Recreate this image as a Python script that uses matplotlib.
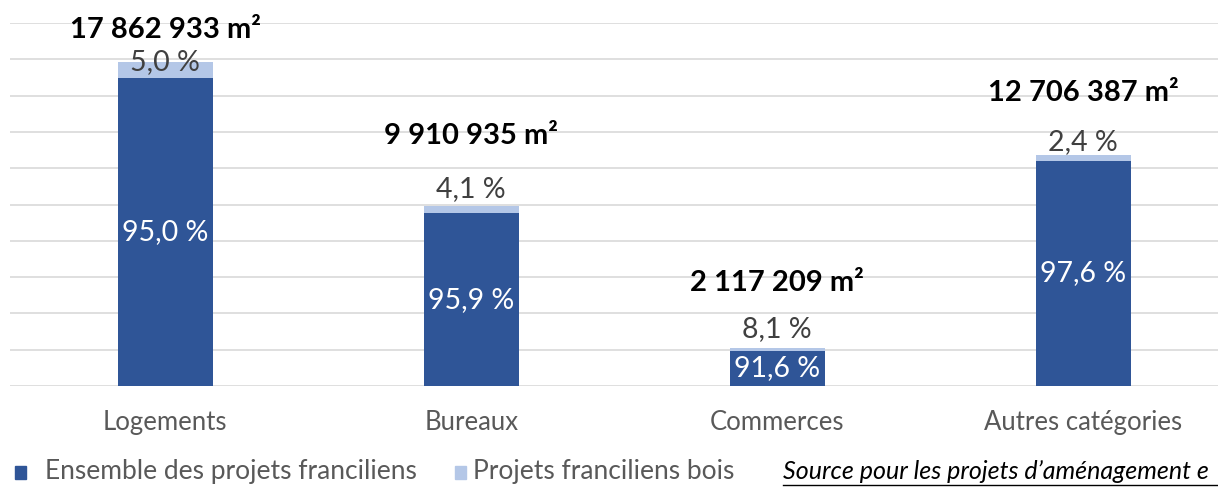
import matplotlib.pyplot as plt
import numpy as np

plt.rcParams['font.family'] = ['Lato', 'DejaVu Sans']

categories = ["Logements", "Bureaux", "Commerces", "Autres catégories"]
totals = [17862933, 9910935, 2117209, 12706387]
pct_ensemble = [95.0, 95.9, 91.6, 97.6]
pct_bois = [5.0, 4.1, 8.1, 2.4]

total_labels = ["17 862 933 m²", "9 910 935 m²", "2 117 209 m²", "12 706 387 m²"]
source_text = "Source pour les projets d’aménagement e"

# label offsets above bar top (pixels in the reference)
bois_off = [0, 17, 19, 13]
total_off = [32, 70, 65, 62]

dark = "#2F5597"
light = "#B4C7E7"

ens_vals = [t * p / 100 for t, p in zip(totals, pct_ensemble)]
bois_vals = [t * p / 100 for t, p in zip(totals, pct_bois)]

W, H = 1218, 487
fig = plt.figure(figsize=(W / 100, H / 100), dpi=100)
ax = fig.add_axes([10 / W, (H - 386) / H, 1 - 10 / W, (386 - 23) / H])

x = np.arange(len(categories))
ax.bar(x, ens_vals, width=0.31, color=dark, zorder=3)
ax.bar(x, bois_vals, bottom=ens_vals, width=0.31, color=light, zorder=3)

ax.set_xlim(-0.507, 3.44)
ax.set_ylim(0, 20e6)
ax.set_yticks(np.arange(0, 20e6 + 1, 2e6))
ax.yaxis.grid(True, color="#D9D9D9", linewidth=1.2)
ax.set_axisbelow(True)
for s in ax.spines.values():
    s.set_visible(False)
ax.tick_params(axis="both", length=0)
ax.set_yticklabels([])
ax.set_xticks(x)
ax.set_xticklabels(categories, fontsize=18.5, color="#595959")
ax.tick_params(axis="x", pad=17)

for i in range(len(categories)):
    top = totals[i] * (pct_ensemble[i] + pct_bois[i]) / 100
    ax.text(x[i], ens_vals[i] / 2, f"{pct_ensemble[i]:.1f} %".replace(".", ","),
            ha="center", va="center", color="white", fontsize=20.5, zorder=4)
    ax.annotate(f"{pct_bois[i]:.1f} %".replace(".", ","), (x[i], top),
                xytext=(0, bois_off[i] * 0.72), textcoords="offset points",
                ha="center", va="center", color="#404040", fontsize=20.5, zorder=4)
    ax.annotate(total_labels[i], (x[i], top),
                xytext=(0, total_off[i] * 0.72), textcoords="offset points",
                ha="center", va="center", color="black", fontsize=21,
                fontweight="bold", zorder=4)

# legend
fig.patches.append(plt.Rectangle((15 / W, (H - 479) / H), 11 / W, 13 / H,
                                 transform=fig.transFigure, color=dark))
fig.text(45 / W, (H - 472) / H, "Ensemble des projets franciliens",
         fontsize=19, color="#595959", va="center")
fig.patches.append(plt.Rectangle((455 / W, (H - 479) / H), 11 / W, 13 / H,
                                 transform=fig.transFigure, color=light))
fig.text(473 / W, (H - 472) / H, "Projets franciliens bois",
         fontsize=19, color="#595959", va="center")
fig.text(783 / W, (H - 471) / H, source_text,
         fontsize=18, color="black", style="italic", va="center")
fig.lines.append(plt.Line2D([783 / W, 1], [(H - 485) / H] * 2,
                            transform=fig.transFigure, color="black", linewidth=1))

fig.savefig("out.png", dpi=100)
